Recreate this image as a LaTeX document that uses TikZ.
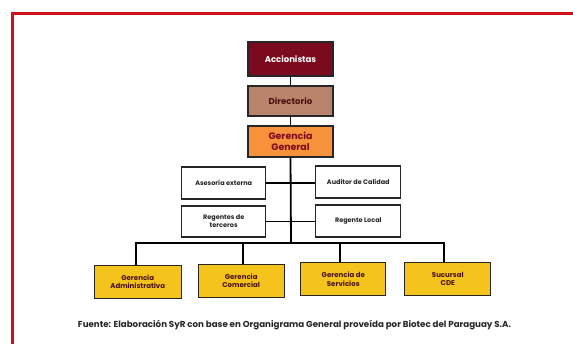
\documentclass[tikz,border=0pt]{standalone}
\usepackage{fontspec}
\setmainfont{Poppins}
\usetikzlibrary{calc}
\definecolor{frame}{HTML}{D0101A}
\definecolor{maroon}{HTML}{7C0A1F}
\definecolor{tan}{HTML}{B8836A}
\definecolor{orangeb}{HTML}{F7923A}
\definecolor{goldb}{HTML}{F5C41C}
\definecolor{txtdark}{HTML}{4A1010}
\begin{document}
\begin{tikzpicture}[x=1pt,y=-1pt,
  box/.style={draw=black!85,line width=1.1pt,inner sep=0pt,align=center,
    font=\fontsize{6.5}{7.8}\selectfont\bfseries,text=black!85},
  topbox/.style={box,minimum width=85pt,minimum height=31pt},
  sidebox/.style={box,fill=white,minimum width=84pt,minimum height=32pt},
  depbox/.style={box,fill=goldb,minimum width=86pt,minimum height=33pt,text=txtdark,
    font=\fontsize{7}{8.4}\selectfont\bfseries},
  thin/.style={line width=0.7pt},
  thick/.style={line width=1.8pt}]
\useasboundingbox (0,0) rectangle (573,344);
\fill[white] (0,0) rectangle (573,344);
% red frame (only top and left visible)
\draw[frame,line width=2.2pt] (12.5,344) -- (12.5,13.5) -- (573,13.5);

\node[topbox,fill=maroon,minimum height=34pt,text=white,font=\fontsize{8.5}{10}\selectfont\bfseries] (acc) at (290.5,59) {Accionistas};
\node[topbox,fill=tan,minimum height=30pt,text=txtdark,font=\fontsize{8.6}{10}\selectfont\bfseries] (dir) at (290.5,101) {Directorio};
\node[topbox,fill=orangeb,minimum height=31pt,text=maroon,font=\fontsize{9.4}{11.5}\selectfont\bfseries] (gg) at (290.5,141.5) {Gerencia\\General};

\node[sidebox] (ase) at (223.7,183) {Asesoría externa};
\node[sidebox,minimum width=85pt] (aud) at (358.3,182) {Auditor de Calidad};
\node[sidebox,minimum height=31pt] (reg) at (223.7,221.5) {Regentes de\\terceros};
\node[sidebox,minimum width=85pt] (rloc) at (358.3,221) {Regente Local};

\node[depbox,minimum width=87pt] (adm) at (137.7,282) {Gerencia\\Administrativa};
\node[depbox] (com) at (241.2,280.7) {Gerencia\\Comercial};
\node[depbox,minimum width=85pt] (ser) at (343.3,279.3) {Gerencia de\\Servicios};
\node[depbox] (suc) at (447.8,279.2) {Sucursal\\CDE};

\coordinate (bus) at (291,243);

% trunk
\draw[thin] (acc.south) -- (dir.north);
\draw[thin] (dir.south) -- (gg.north);
\draw[thick] (gg.south) -- (bus);
% staff lines
\draw[thick] (ase.east) -- (aud.west |- ase.east);
\draw[thin] (reg.east) -- (rloc.west |- reg.east);
% bus
\draw[thick] ([xshift=-2pt]adm.north) |- (bus) -| ([xshift=-3.5pt]suc.north);
\draw[thick] ([xshift=2pt]com.north) -- ([xshift=2pt]com.north |- bus);
\draw[line width=1.2pt] ([xshift=-3.3pt]ser.north) -- ([xshift=-3.3pt]ser.north |- bus);

\node[font=\fontsize{8.7}{10}\selectfont\bfseries,text=black!85] (cap) at (294.5,325)
  {Fuente: Elaboración SyR con base en Organigrama General proveída por Biotec del Paraguay S.A.};
\end{tikzpicture}
\end{document}
